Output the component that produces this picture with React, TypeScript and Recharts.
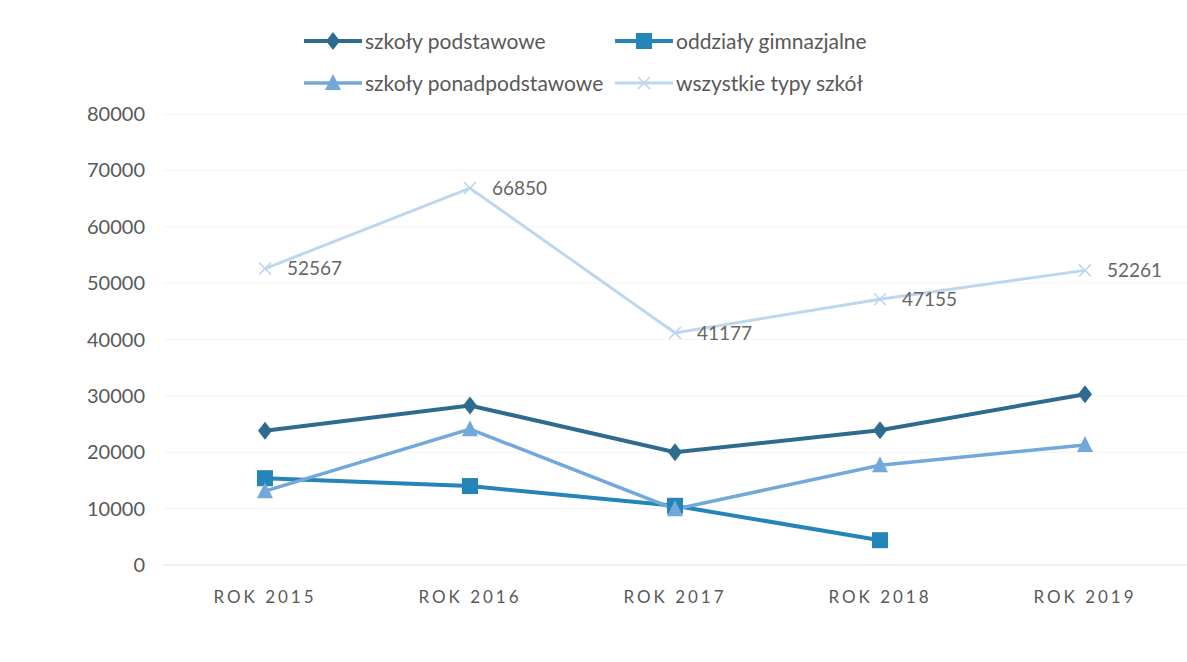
import React from 'react';
import {
  LineChart,
  Line,
  XAxis,
  YAxis,
  CartesianGrid,
  LabelList,
} from 'recharts';

// values
const years = ['ROK 2015', 'ROK 2016', 'ROK 2017', 'ROK 2018', 'ROK 2019'];
const podstawowe = [23800, 28300, 20000, 23900, 30300];
const gimnazjalne: (number | null)[] = [15400, 14000, 10500, 4400, null];
const ponadpodstawowe = [13100, 24100, 9900, 17700, 21300];
const wszystkie = [52567, 66850, 41177, 47155, 52261];
const yTicks = [0, 10000, 20000, 30000, 40000, 50000, 60000, 70000, 80000];

const data = years.map((name, i) => ({
  name,
  podstawowe: podstawowe[i],
  gimnazjalne: gimnazjalne[i],
  ponadpodstawowe: ponadpodstawowe[i],
  wszystkie: wszystkie[i],
}));

type Shape = 'diamond' | 'square' | 'triangle' | 'cross';

const series: { key: string; label: string; color: string; shape: Shape; width: number }[] = [
  { key: 'podstawowe', label: 'szkoły podstawowe', color: '#2f6b8f', shape: 'diamond', width: 4 },
  { key: 'gimnazjalne', label: 'oddziały gimnazjalne', color: '#2585b9', shape: 'square', width: 4 },
  { key: 'ponadpodstawowe', label: 'szkoły ponadpodstawowe', color: '#72a9da', shape: 'triangle', width: 3.5 },
  { key: 'wszystkie', label: 'wszystkie typy szkół', color: '#bdd7f0', shape: 'cross', width: 3 },
];

const FONT = 'Lato, "Open Sans", sans-serif';

const Marker = ({ cx, cy, shape, color }: { cx: number; cy: number; shape: Shape; color: string }) => {
  if (cx == null || cy == null) return null;
  switch (shape) {
    case 'diamond':
      return <path d={`M${cx},${cy - 9} L${cx + 7},${cy} L${cx},${cy + 9} L${cx - 7},${cy} Z`} fill={color} />;
    case 'square':
      return <rect x={cx - 8} y={cy - 8} width={16} height={16} fill={color} />;
    case 'triangle':
      return <path d={`M${cx},${cy - 9} L${cx + 8},${cy + 7} L${cx - 8},${cy + 7} Z`} fill={color} />;
    default:
      return (
        <path
          d={`M${cx - 6},${cy - 6} L${cx + 6},${cy + 6} M${cx - 6},${cy + 6} L${cx + 6},${cy - 6}`}
          stroke={color}
          strokeWidth={1.5}
          fill="none"
        />
      );
  }
};

const LegendItem = ({ s }: { s: (typeof series)[number] }) => (
  <div style={{ display: 'flex', alignItems: 'center' }}>
    <svg width={58} height={20}>
      <line x1={0} y1={10} x2={58} y2={10} stroke={s.color} strokeWidth={s.width} />
      <Marker cx={29} cy={10} shape={s.shape} color={s.color} />
    </svg>
    <span style={{ marginLeft: 3 }}>{s.label}</span>
  </div>
);

export default function App() {
  return (
    <div style={{ position: 'absolute', left: 0, top: 0, width: 1187, height: 662, background: '#fff', fontFamily: FONT }}>
      <div
        style={{
          position: 'absolute',
          left: 304,
          top: 28,
          display: 'grid',
          gridTemplateColumns: '311px 300px',
          rowGap: 17,
          fontSize: 21,
          color: '#595959',
        }}
      >
        {series.map((s) => (
          <LegendItem key={s.key} s={s} />
        ))}
      </div>
      <LineChart width={1187} height={662} data={data} margin={{ top: 114, right: 0, bottom: 67, left: 103 }}>
        <CartesianGrid vertical={false} stroke="#f4f4f4" />
        <XAxis
          dataKey="name"
          axisLine={{ stroke: '#e6e6e6' }}
          tickLine={false}
          padding={{ left: 102, right: 102 }}
          tick={{ fill: '#595959', fontSize: 17, letterSpacing: 3, fontFamily: FONT }}
          tickMargin={20}
        />
        <YAxis
          ticks={yTicks}
          domain={[0, 80000]}
          width={60}
          axisLine={false}
          tickLine={false}
          tick={{ fill: '#595959', fontSize: 20, fontFamily: FONT }}
          tickMargin={12}
        />
        {series.map((s) => (
          <Line
            key={s.key}
            dataKey={s.key}
            stroke={s.color}
            strokeWidth={s.width}
            isAnimationActive={false}
            dot={(p: any) => <Marker key={`${s.key}-${p.index}`} cx={p.cx} cy={p.cy} shape={s.shape} color={s.color} />}
            activeDot={false}
          >
            {s.key === 'wszystkie' && (
              <LabelList dataKey="wszystkie" position="right" offset={22} fill="#666" fontSize={19} fontFamily={FONT} />
            )}
          </Line>
        ))}
      </LineChart>
    </div>
  );
}
